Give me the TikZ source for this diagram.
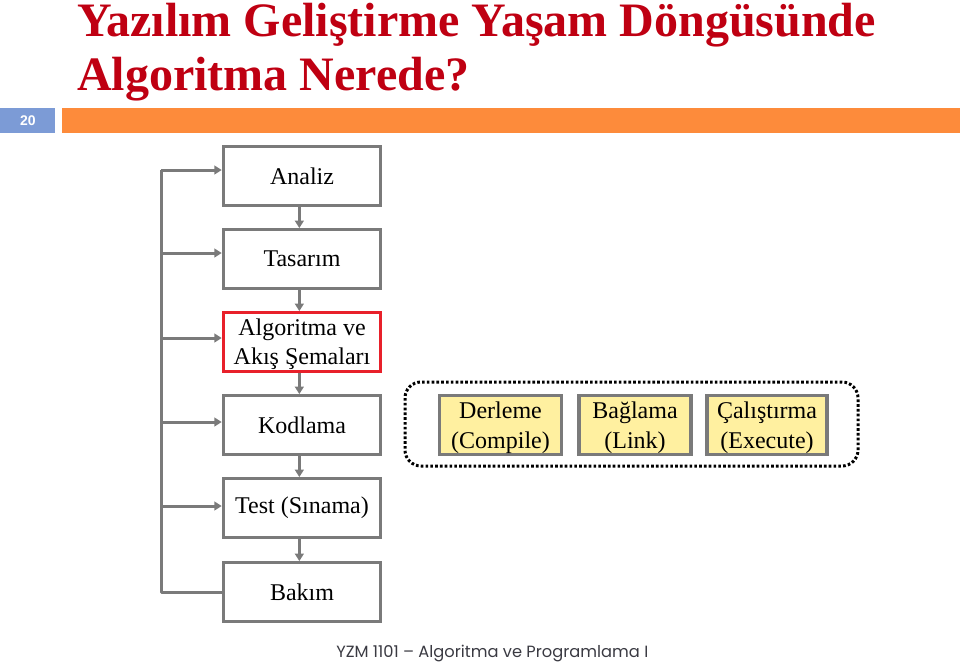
\documentclass[tikz,border=0pt]{standalone}
\usepackage{fontspec}
\setmainfont{Liberation Serif}
\newfontfamily\footfont{Poppins}
\newfontfamily\barfont{Liberation Sans}
\usetikzlibrary{arrows.meta,calc}
\definecolor{titlered}{HTML}{BF0012}
\definecolor{barblue}{HTML}{7C9BD6}
\definecolor{barorange}{HTML}{FD8B3B}
\definecolor{boxgray}{HTML}{7A7A7A}
\definecolor{boxred}{HTML}{E8202A}
\definecolor{paleyellow}{HTML}{FFF0A0}
\definecolor{footgray}{HTML}{3A3A42}
\tikzset{
  stagebox/.style={draw=boxgray, line width=2.4pt, fill=white, minimum width=118pt, minimum height=44pt, inner sep=0pt, align=center, font=\fontsize{18}{21.5}\selectfont},
  buildbox/.style={draw=boxgray, line width=2.4pt, fill=paleyellow, minimum height=44pt, inner sep=0pt},
  boxtext/.style={inner sep=0pt, align=center, font=\fontsize{18}{22}\selectfont},
  flowarr/.style={draw=boxgray, line width=2.25pt, -{Triangle[length=5.5pt,width=6.5pt]}},
  flowline/.style={draw=boxgray, line width=2.25pt, line join=round},
}
\begin{document}
\begin{tikzpicture}[x=0.75pt,y=-0.75pt]
\useasboundingbox (0,0) rectangle (960,661);
% title
\node[anchor=base west, inner sep=0pt, text=titlered, font=\fontsize{36}{40}\selectfont\bfseries] (t1) at (77,36) {Yazılım Geliştirme Yaşam Döngüsünde};
\node[anchor=base west, inner sep=0pt, text=titlered, font=\fontsize{36}{40}\selectfont\bfseries] (t2) at (77,90) {Algoritma Nerede?};
% bar
\fill[barblue] (0,108) rectangle (55,133);
\node[text=white, font=\barfont\bfseries\fontsize{10.5}{12}\selectfont] (num) at (28,120.5) {20};
\fill[barorange] (62,108) rectangle (960,133);
% stages
\node[stagebox] (analiz) at (302,176) {Analiz};
\node[stagebox] (tasarim) at (302,259) {Tasarım};
\node[stagebox, draw=boxred] (algo) at (302,342) {};
\node[boxtext] (algotext) at ([yshift=-1.5pt]algo.center) {Algoritma ve\\Akış Şemaları};
\node[stagebox] (kod) at (302,425) {Kodlama};
\node[stagebox] (test) at (302,508) {Test (Sınama)};
\node[stagebox] (bakim) at (302,592) {Bakım};
% down arrows
\draw[flowarr] ([xshift=-2pt]analiz.south) -- ([xshift=-2pt]tasarim.north);
\draw[flowarr] ([xshift=-2pt]tasarim.south) -- ([xshift=-2pt]algo.north);
\draw[flowarr] ([xshift=-2pt]algo.south) -- ([xshift=-2pt]kod.north);
\draw[flowarr] ([xshift=-2pt]kod.south) -- ([xshift=-2pt]test.north);
\draw[flowarr] ([xshift=-2pt]test.south) -- ([xshift=-2pt]bakim.north);
% feedback bracket
\coordinate (bl) at (161,592);
\coordinate (tl) at (161,170);
\draw[flowline] (bakim.west) -- (bl) -- (tl);
\draw[flowarr] (tl) -- (tl -| analiz.west);
\draw[flowarr] (bl |- tasarim.west) ++(0,-6) -- ([yshift=4.5pt]tasarim.west);
\draw[flowarr] (bl |- algo.west) ++(0,-4) -- ([yshift=3pt]algo.west);
\draw[flowarr] (bl |- kod.west) ++(0,-3) -- ([yshift=2.25pt]kod.west);
\draw[flowarr] (bl |- test.west) ++(0,-2) -- ([yshift=1.5pt]test.west);
% build group
\draw[line width=2.25pt, dash pattern=on 2pt off 1.6pt, rounded corners=12pt] (405,382) rectangle (858,466);
\node[buildbox, minimum width=92pt] (derle) at (500.5,425) {};
\node[boxtext] (derletext) at ([yshift=-2pt]derle.center) {Derleme\\(Compile)};
\node[buildbox, minimum width=84pt] (bagla) at (635,425) {};
\node[boxtext] (baglatext) at ([yshift=-2pt]bagla.center) {Bağlama\\(Link)};
\node[buildbox, minimum width=90pt] (calis) at (767,425) {};
\node[boxtext] (calistext) at ([yshift=-2pt]calis.center) {Çalıştırma\\(Execute)};
% footer
\node[anchor=base west, inner sep=0pt, text=footgray, font=\footfont\fontsize{12.2}{14}\selectfont] (foot) at (336,657) {YZM 1101 – Algoritma ve Programlama I};
\end{tikzpicture}
\end{document}
